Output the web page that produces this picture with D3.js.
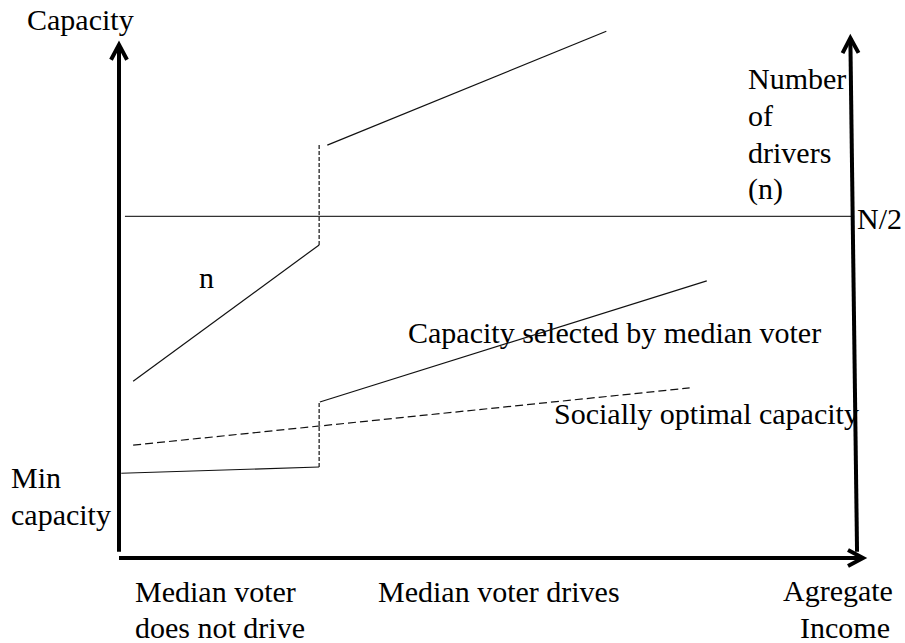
<!DOCTYPE html>
<html>
<head>
<meta charset="utf-8">
<script src="https://cdn.jsdelivr.net/npm/d3@7"></script>
<style>
  html, body { margin: 0; padding: 0; background: #fff; }
  svg { display: block; }
</style>
</head>
<body>
<svg id="chart" width="905" height="643"></svg>
<script>
// ---- Data (income on x, capacity / number of drivers on y, arbitrary units) ----
const incomeThreshold = 26.9;                    // where the median voter starts to drive
const driversBelow   = [[1.9, 34.0], [26.9, 60.2]];   // n, median voter does not drive
const driversAbove   = [[28.0, 79.4], [65.5, 101.3]]; // n, median voter drives
const halfDrivers    = 65.7;                     // N/2 level
const halfExtent     = [0.8, 98.5];
const medianCapBelow = [[0.3, 16.3], [26.9, 17.5]];   // capacity selected by median voter
const medianCapAbove = [[27.0, 30.0], [79.0, 53.3]];
const socialCap      = [[1.9, 21.7], [76.7, 32.7]];   // socially optimal capacity
const jumpDrivers    = [60.2, 79.4];
const jumpCapacity   = [17.5, 30.0];

const svg = d3.select("#chart");
const x = d3.scaleLinear().domain([0, 100]).range([119, 863]);
const y = d3.scaleLinear().domain([0, 100]).range([558, 38]);
const line = d3.line().x(d => x(d[0])).y(d => y(d[1]));

// ---- Labels (drawn first so the right axis overlaps "Number") ----
const labels = [
  {t: "Capacity", x: 27, y: 30},
  {t: "Number", x: 748, y: 89},
  {t: "of", x: 748, y: 126},
  {t: "drivers", x: 748, y: 163},
  {t: "(n)", x: 748, y: 199},
  {t: "N/2", x: 857, y: 229},
  {t: "n", x: 199, y: 288},
  {t: "Capacity selected by median voter", x: 408, y: 343},
  {t: "Socially optimal capacity", x: 554, y: 424},
  {t: "Min", x: 11, y: 488},
  {t: "capacity", x: 11, y: 525},
  {t: "Median voter", x: 135, y: 602},
  {t: "does not drive", x: 135, y: 638},
  {t: "Median voter drives", x: 378, y: 602},
  {t: "Agregate", x: 783, y: 601},
  {t: "Income", x: 800, y: 638}
];
svg.append("g")
  .attr("font-family", "'Liberation Serif', 'Times New Roman', Times, serif")
  .attr("font-size", 30)
  .attr("fill", "#000")
  .selectAll("text").data(labels).join("text")
  .attr("x", d => d.x).attr("y", d => d.y).text(d => d.t);

const g = svg.append("g").attr("fill", "none");

// N/2 horizontal line
g.append("path")
  .attr("d", line([[halfExtent[0], halfDrivers], [halfExtent[1], halfDrivers]]))
  .attr("stroke", "#333").attr("stroke-width", 1.2);

// Number of drivers
[driversBelow, driversAbove].forEach(s =>
  g.append("path").attr("d", line(s)).attr("stroke", "#111").attr("stroke-width", 1.2));

// Capacity selected by median voter
[medianCapBelow, medianCapAbove].forEach(s =>
  g.append("path").attr("d", line(s)).attr("stroke", "#111").attr("stroke-width", 1.2));

// Socially optimal capacity (dashed)
g.append("path").attr("d", line(socialCap))
  .attr("stroke", "#111").attr("stroke-width", 1.2).attr("stroke-dasharray", "8,4");

// Jump lines (short dashes)
[jumpDrivers, jumpCapacity].forEach(j =>
  g.append("path")
    .attr("d", line([[incomeThreshold, j[0]], [incomeThreshold, j[1]]]))
    .attr("stroke", "#111").attr("stroke-width", 1.2).attr("stroke-dasharray", "4,2"));

// ---- Axes with arrowheads ----
function arrow(from, to) {
  const x0 = x(from[0]), y0 = y(from[1]), x1 = x(to[0]), y1 = y(to[1]);
  const ang = Math.atan2(y1 - y0, x1 - x0);
  const L = 15, W = 8;
  const bx = x1 - L * Math.cos(ang), by = y1 - L * Math.sin(ang);
  const px = -Math.sin(ang), py = Math.cos(ang);
  g.append("path").attr("d", `M${x0},${y0}L${x1},${y1}`)
    .attr("stroke", "#000").attr("stroke-width", 4);
  g.append("path")
    .attr("d", `M${bx + W * px},${by + W * py}L${x1},${y1}L${bx - W * px},${by - W * py}`)
    .attr("stroke", "#000").attr("stroke-width", 4).attr("stroke-linejoin", "miter")
    .attr("stroke-linecap", "butt");
}
arrow([0, 1.2], [0, 98.7]);        // capacity axis
arrow([0, 0], [100, 0]);           // income axis
arrow([99.2, 1.2], [98.3, 100]);   // number of drivers axis
</script>
</body>
</html>
